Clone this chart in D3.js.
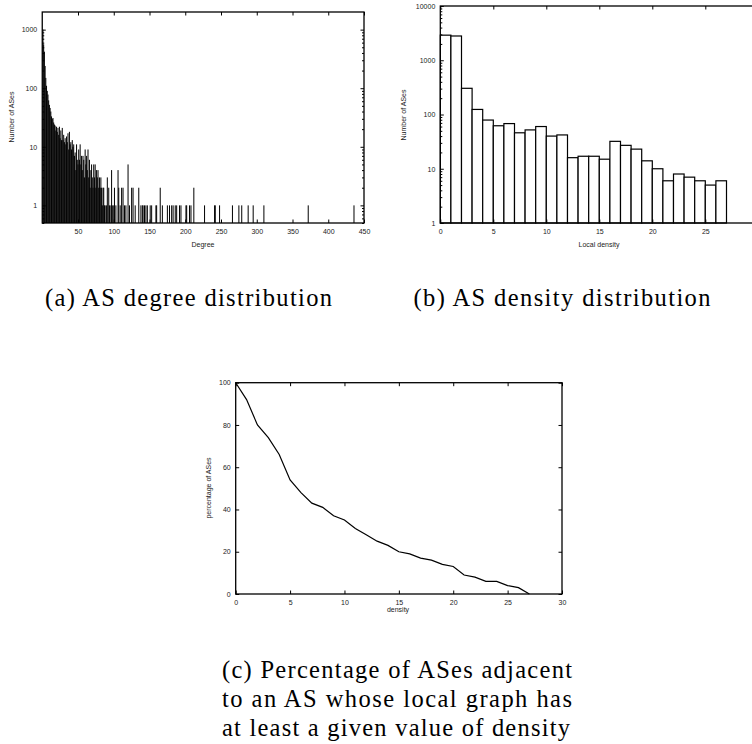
<!DOCTYPE html>
<html>
<head>
<meta charset="utf-8">
<script src="https://cdnjs.cloudflare.com/ajax/libs/d3/7.8.5/d3.min.js"></script>
<style>
body { margin: 0; background: #fff; }
svg { display: block; }
.axis text, .label { font-family: "Liberation Sans", Arial, sans-serif; font-size: 7px; fill: #222; }
.caption { font-family: "Liberation Serif", "Times New Roman", serif; font-size: 24.5px; fill: #000; }
</style>
</head>
<body>
<div id="fig"></div>
<script>
// (a) AS degree distribution: counts for degree 1..100, then the sparse tail
var degreeCounts = [
	1000, 560, 420, 240, 150, 110, 90, 78, 62, 52,
	46, 40, 33, 30, 31, 26, 24, 23, 19, 22,
	18, 21, 16, 22, 14, 19, 13, 21, 13, 16,
	12, 14, 11, 15, 12, 17, 9, 18, 11, 12,
	9, 13, 10, 11, 7, 8, 4, 11, 6, 5,
	9, 6, 11, 5, 7, 4, 7, 6, 3, 9,
	5, 7, 4, 9, 3, 6, 2, 4, 5, 3,
	2, 5, 3, 5, 2, 4, 3, 4, 2, 3,
	2, 3, 2, 1, 2, 2, 1, 1, 0, 1,
	3, 0, 2, 1, 0, 1, 4, 1, 0, 1
];
var tailDegrees = [101, 103, 106, 107, 109, 111, 113, 115, 117, 120, 122, 125, 127, 130, 135, 138,
	140, 141, 143, 145, 147, 151, 153, 159, 160, 165, 168, 175, 178, 181, 183, 186, 188, 192, 194,
	201, 202, 206, 208, 212, 227, 241, 242, 248, 266, 275, 279, 288, 295, 310, 372, 436];
var tailCounts = [2, 1, 4, 2, 1, 2, 2, 1, 1, 5, 1, 2, 2, 1, 2, 1,
	1, 1, 1, 1, 1, 1, 1, 1, 1, 2, 1, 1, 1, 1, 1, 1, 1, 1, 1,
	1, 1, 1, 1, 2, 1, 1, 1, 1, 1, 1, 1, 1, 1, 1, 1, 1];
var degreeTicks = [50, 100, 150, 200, 250, 300, 350, 400, 450];
var countTicksA = [1, 10, 100, 1000];

// (b) AS density distribution: one bar per unit of local density
var densityBins = [0, 1, 2, 3, 4, 5, 6, 7, 8, 9, 10, 11, 12, 13, 14, 15, 16, 17, 18, 19, 20, 21, 22, 23, 24, 25, 26];
var densityCounts = [2900, 2800, 304, 124, 79, 62, 68, 46, 52, 60, 40, 42, 16, 17, 17, 15, 32, 27, 23, 14, 10, 6, 8, 7, 6, 5, 6];
// the 30 tick falls past the right edge of the picture
var densityTicksB = [0, 5, 10, 15, 20, 25];
var countTicksB = [1, 10, 100, 1000, 10000];

// (c) percentage of ASes adjacent to an AS with at least a given density
var densityValues = [0, 1, 2, 3, 4, 5, 6, 7, 8, 9, 10, 11, 12, 13, 14, 15, 16, 17, 18, 19, 20, 21, 22, 23, 24, 25, 26, 27];
var percentValues = [100, 92, 80, 74, 66, 54, 48, 43, 41, 37, 35, 31, 28, 25, 23, 20, 19, 17, 16, 14, 13, 9, 8, 6, 6, 4, 3, 0];
var densityTicksC = [0, 5, 10, 15, 20, 25, 30];
var percentTicks = [0, 20, 40, 60, 80, 100];

var minorSteps = [2, 3, 4, 5, 6, 7, 8, 9];

var svg = d3.select("#fig").append("svg")
	.attr("width", 752)
	.attr("height", 744);

function minorTicks(majors) {
	var out = [];
	majors.slice(0, -1).forEach(function(m) {
		minorSteps.forEach(function(s) { out.push(m * s); });
	});
	return out;
}

// box with gnuplot style inward ticks mirrored on all four sides
function frame(x, y, xTicks, yTicks, yMinor) {
	var xr = x.range(), yr = y.range();
	var left = xr[0], right = xr[1], bottom = yr[0], top = yr[1];
	var fmt = d3.format("d");

	svg.append("g").attr("class", "axis")
		.attr("transform", "translate(0," + bottom + ")")
		.call(d3.axisBottom(x).tickValues(xTicks).tickSizeInner(-3.5).tickSizeOuter(0).tickPadding(6).tickFormat(fmt));
	svg.append("g").attr("class", "axis")
		.attr("transform", "translate(0," + top + ")")
		.call(d3.axisTop(x).tickValues(xTicks).tickSizeInner(-3.5).tickSizeOuter(0).tickFormat(""));
	svg.append("g").attr("class", "axis")
		.attr("transform", "translate(" + left + ",0)")
		.call(d3.axisLeft(y).tickValues(yTicks).tickSizeInner(-3.5).tickSizeOuter(0).tickPadding(5).tickFormat(fmt));
	svg.append("g").attr("class", "axis")
		.attr("transform", "translate(" + right + ",0)")
		.call(d3.axisRight(y).tickValues(yTicks).tickSizeInner(-3.5).tickSizeOuter(0).tickFormat(""));

	if (yMinor) {
		svg.append("g").attr("class", "axis")
			.attr("transform", "translate(" + left + ",0)")
			.call(d3.axisLeft(y).tickValues(yMinor).tickSizeInner(-2).tickSizeOuter(0).tickFormat(""));
		svg.append("g").attr("class", "axis")
			.attr("transform", "translate(" + right + ",0)")
			.call(d3.axisRight(y).tickValues(yMinor).tickSizeInner(-2).tickSizeOuter(0).tickFormat(""));
	}

	svg.selectAll(".axis .domain").remove();
	svg.selectAll(".axis line").attr("stroke", "#000").attr("stroke-width", 1);

	svg.append("rect")
		.attr("x", left).attr("y", top)
		.attr("width", right - left).attr("height", bottom - top)
		.style("fill", "none")
		.style("stroke", "#000")
		.style("stroke-width", 1.3);
}

function label(text, cx, cy, rotate) {
	svg.append("text")
		.attr("class", "label")
		.attr("text-anchor", "middle")
		.attr("dy", "0.35em")
		.attr("transform", "translate(" + cx + "," + cy + ")" + (rotate ? " rotate(-90)" : ""))
		.text(text);
}

function caption(text, x, y, len, anchor) {
	svg.append("text")
		.attr("class", "caption")
		.attr("x", x).attr("y", y)
		.attr("text-anchor", anchor)
		.attr("textLength", len)
		.attr("lengthAdjust", "spacing")
		.text(text);
}

function plotDegree() {
	var x = d3.scaleLinear().domain([0, 450]).range([42.25, 364]);
	var y = d3.scaleLog().domain([0.5, 2000]).range([223, 12]);

	var pts = [];
	degreeCounts.forEach(function(c, i) { if (c > 0) pts.push({d: i + 1, c: c}); });
	tailDegrees.forEach(function(d, i) { pts.push({d: d, c: tailCounts[i]}); });

	svg.append("g").selectAll("line")
		.data(pts)
		.enter().append("line")
		.attr("x1", function(p) { return x(p.d); })
		.attr("x2", function(p) { return x(p.d); })
		.attr("y1", y(0.5))
		.attr("y2", function(p) { return y(p.c); })
		.style("stroke", "#000")
		.style("stroke-width", 1);

	frame(x, y, degreeTicks, countTicksA, minorTicks([0.1, 1, 10, 100, 1000]).filter(function(v) { return v >= 0.5 && v <= 2000; }));
	label("Number of ASes", 12, 117, true);
	label("Degree", 203, 245, false);
}

function plotDensity() {
	var x = d3.scaleLinear().domain([0, 30]).range([440.3, 758.3]);
	var y = d3.scaleLog().domain([1, 10000]).range([223, 6]);

	svg.append("g").selectAll("rect")
		.data(densityBins)
		.enter().append("rect")
		.attr("x", function(b) { return x(b); })
		.attr("width", function(b) { return x(b + 1) - x(b); })
		.attr("y", function(b, i) { return y(densityCounts[i]); })
		.attr("height", function(b, i) { return y(1) - y(densityCounts[i]); })
		.style("fill", "#fff")
		.style("stroke", "#000")
		.style("stroke-width", 1.2);

	frame(x, y, densityTicksB, countTicksB, minorTicks(countTicksB));
	label("Number of ASes", 404, 115, true);
	label("Local density", 599, 245, false);
}

function plotPercent() {
	var x = d3.scaleLinear().domain([0, 30]).range([235.7, 562]);
	var y = d3.scaleLinear().domain([0, 100]).range([594, 382.7]);

	var line = d3.line()
		.x(function(d) { return x(d); })
		.y(function(d, i) { return y(percentValues[i]); });

	svg.append("path")
		.datum(densityValues)
		.attr("d", line)
		.style("fill", "none")
		.style("stroke", "#000")
		.style("stroke-width", 1.2);

	frame(x, y, densityTicksC, percentTicks, null);
	label("percentage of ASes", 209, 488, true);
	label("density", 398, 610, false);
}

plotDegree();
plotDensity();
plotPercent();

caption("(a) AS degree distribution", 188.5, 306, 287, "middle");
caption("(b) AS density distribution", 562, 306, 297, "middle");
caption("(c) Percentage of ASes adjacent", 222, 678, 350, "start");
caption("to an AS whose local graph has", 222, 707, 350, "start");
caption("at least a given value of density", 222, 736, 348, "start");
</script>
</body>
</html>
